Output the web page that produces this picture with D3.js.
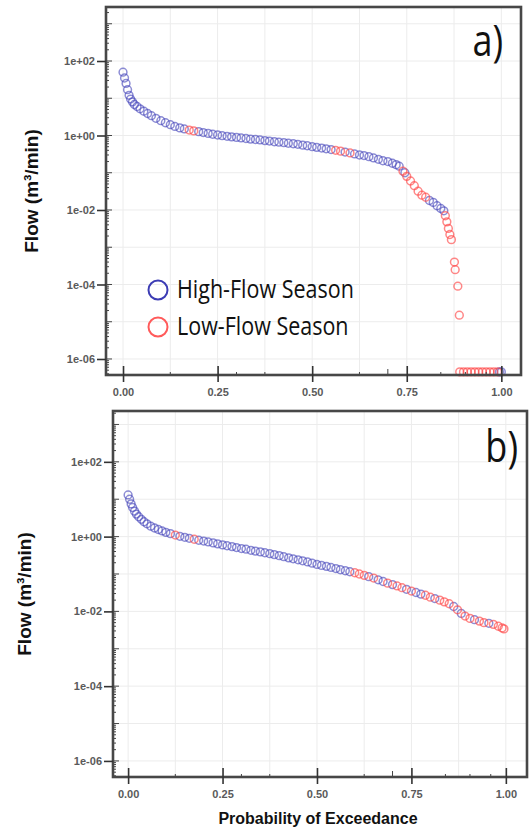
<!DOCTYPE html>
<html>
<head>
<meta charset="utf-8">
<script src="https://cdn.jsdelivr.net/npm/d3@7"></script>
<style>
  body { margin: 0; background: #fff; }
  svg { display: block; }
</style>
</head>
<body>
<svg id="chart" width="530" height="833"></svg>
<script>
// tick values and labels
var xTicks = [0, 0.25, 0.5, 0.75, 1];
var xTickLabels = ['0.00', '0.25', '0.50', '0.75', '1.00'];
var xGrid = [0, 0.125, 0.25, 0.375, 0.5, 0.625, 0.75, 0.875, 1];
var xMinor = [0.125, 0.3, 0.375, 0.625, 0.7, 0.84, 0.905, 0.96];
var yTicks = [1e2, 1, 1e-2, 1e-4, 1e-6];
var yTickLabels = ['1e+02', '1e+00', '1e-02', '1e-04', '1e-06'];
var yGrid = [1e3, 1e2, 1e1, 1, 1e-1, 1e-2, 1e-3, 1e-4, 1e-5, 1e-6];

// panel a) - high flow season
var highA_p = [0.000, 0.004, 0.008, 0.012, 0.016, 0.020, 0.025, 0.030, 0.037, 0.045,
               0.055, 0.065, 0.075, 0.087, 0.100, 0.112, 0.125, 0.137, 0.150, 0.162,
               0.200, 0.212, 0.225, 0.237, 0.250, 0.262, 0.275, 0.287, 0.300, 0.312,
               0.325, 0.337, 0.350, 0.362, 0.375, 0.387, 0.400, 0.412, 0.425, 0.437,
               0.450, 0.462, 0.475, 0.487, 0.500, 0.512, 0.525, 0.537, 0.550, 0.587,
               0.612, 0.625, 0.637, 0.650, 0.662, 0.675, 0.687, 0.700, 0.712, 0.722,
               0.730, 0.745, 0.810, 0.820, 0.830, 0.840, 0.848, 0.995, 1.000];
var highA_q = [50, 35, 25, 17, 12, 9.5, 8, 6.8, 6, 5.2,
               4.5, 3.9, 3.4, 2.9, 2.5, 2.2, 1.95, 1.75, 1.6, 1.5,
               1.27, 1.2, 1.14, 1.08, 1.03, 0.99, 0.95, 0.92, 0.89, 0.86,
               0.83, 0.8, 0.78, 0.76, 0.73, 0.71, 0.68, 0.66, 0.64, 0.62,
               0.6, 0.58, 0.55, 0.53, 0.5, 0.48, 0.46, 0.44, 0.42, 0.36,
               0.32, 0.3, 0.29, 0.27, 0.25, 0.23, 0.21, 0.2, 0.18, 0.165,
               0.15, 0.1, 0.018, 0.016, 0.013, 0.011, 0.0095, 4.5e-7, 4.5e-7];

// panel a) - low flow season
var lowA_p = [0.175, 0.187, 0.562, 0.575, 0.600, 0.740, 0.750, 0.760, 0.770, 0.780,
              0.790, 0.800, 0.852, 0.856, 0.860, 0.864, 0.868, 0.876, 0.878, 0.885,
              0.889, 0.890, 0.900, 0.910, 0.920, 0.930, 0.940, 0.950, 0.960, 0.970,
              0.980, 0.990];
var lowA_q = [1.4, 1.33, 0.4, 0.38, 0.34, 0.11, 0.08, 0.06, 0.045, 0.032,
              0.025, 0.022, 0.007, 0.0048, 0.0032, 0.0022, 0.0016, 4e-4, 2.5e-4, 9e-5,
              1.5e-5, 4.5e-7, 4.5e-7, 4.5e-7, 4.5e-7, 4.5e-7, 4.5e-7, 4.5e-7, 4.5e-7, 4.5e-7,
              4.5e-7, 4.5e-7];

// panel b) - high flow season
var highB_p = [0.000, 0.004, 0.008, 0.012, 0.017, 0.022, 0.028, 0.035, 0.042, 0.050,
               0.060, 0.070, 0.080, 0.090, 0.100, 0.112, 0.137, 0.150, 0.162, 0.187,
               0.200, 0.212, 0.225, 0.237, 0.250, 0.262, 0.275, 0.287, 0.300, 0.312,
               0.325, 0.337, 0.350, 0.362, 0.375, 0.387, 0.400, 0.412, 0.425, 0.437,
               0.450, 0.462, 0.475, 0.487, 0.500, 0.512, 0.525, 0.537, 0.550, 0.562,
               0.575, 0.587, 0.637, 0.662, 0.675, 0.700, 0.737, 0.762, 0.775, 0.812,
               0.862, 0.882, 0.917, 0.955];
var highB_q = [13, 10, 7.5, 6, 4.8, 4, 3.4, 2.9, 2.5, 2.2,
               1.9, 1.7, 1.55, 1.42, 1.3, 1.2, 1.02, 0.96, 0.9, 0.8,
               0.76, 0.72, 0.68, 0.64, 0.6, 0.57, 0.54, 0.51, 0.48, 0.46,
               0.43, 0.41, 0.39, 0.37, 0.35, 0.33, 0.31, 0.29, 0.27, 0.255,
               0.24, 0.225, 0.21, 0.195, 0.18, 0.17, 0.16, 0.15, 0.14, 0.13,
               0.122, 0.115, 0.085, 0.07, 0.063, 0.052, 0.039, 0.032, 0.029, 0.022,
               0.0135, 0.0088, 0.006, 0.0048];

// panel b) - low flow season
var lowB_p = [0.125, 0.175, 0.600, 0.612, 0.625, 0.650, 0.687, 0.712, 0.725, 0.750,
              0.787, 0.800, 0.825, 0.837, 0.850, 0.872, 0.892, 0.905, 0.930, 0.942,
              0.967, 0.980, 0.990, 0.995];
var lowB_q = [1.1, 0.85, 0.108, 0.1, 0.092, 0.078, 0.057, 0.048, 0.043, 0.035,
              0.027, 0.024, 0.02, 0.018, 0.016, 0.011, 0.0075, 0.0065, 0.0055, 0.005,
              0.0045, 0.004, 0.0036, 0.0034];

var highColor = 'rgba(65, 65, 185, 0.6)',
    lowColor = 'rgba(255, 70, 70, 0.65)';

var svg = d3.select('#chart');

function Panel(box, xDomain, yDomain, opts) {
    this.box = box;
    this.opts = opts;
    this.x = d3.scaleLinear().domain(xDomain).range([box.left, box.right]);
    this.y = d3.scaleLog().domain(yDomain).range([box.top, box.bottom]);
    this.g = svg.append('g');
}

Panel.prototype.draw = function(series) {
    var x = this.x, y = this.y, b = this.box, g = this.g, o = this.opts;

    // gridlines
    g.selectAll('.gx').data(xGrid).enter().append('line')
        .attr('x1', x).attr('x2', x)
        .attr('y1', b.top).attr('y2', b.bottom)
        .style('stroke', '#ececec').style('stroke-width', 1);
    g.selectAll('.gy').data(yGrid).enter().append('line')
        .attr('y1', y).attr('y2', y)
        .attr('x1', b.left).attr('x2', b.right)
        .style('stroke', '#ececec').style('stroke-width', 1);

    // points
    series.forEach(function(s) {
        g.append('g').selectAll('circle')
            .data(d3.range(s.p.length))
            .enter().append('circle')
            .attr('cx', function(i) { return x(s.p[i]); })
            .attr('cy', function(i) { return y(s.q[i]); })
            .attr('r', 3.9)
            .style('fill', 'none')
            .style('stroke', s.color)
            .style('stroke-width', 1.5);
    });

    // minor log ticks, inside the left edge
    var minor = y.ticks().filter(function(d) { return d > y.domain()[1] && d < y.domain()[0]; });
    g.selectAll('.my').data(minor).enter().append('line')
        .attr('y1', y).attr('y2', y)
        .attr('x1', b.left)
        .attr('x2', function(d) {
            var m = Math.round(d / Math.pow(10, Math.floor(Math.log10(d) + 1e-9)));
            return b.left + (m === 1 ? 6 : 3);
        })
        .style('stroke', '#444').style('stroke-width', 1);

    g.selectAll('.mx').data(xMinor).enter().append('line')
        .attr('x1', x).attr('x2', x)
        .attr('y1', b.bottom).attr('y2', function(d) { return b.bottom - (d === 0.7 ? 6 : 3); })
        .style('stroke', '#444').style('stroke-width', 1);

    // frame
    g.append('rect')
        .attr('x', b.left).attr('y', b.top)
        .attr('width', b.right - b.left).attr('height', b.bottom - b.top)
        .style('fill', 'none').style('stroke', '#474747').style('stroke-width', 2.6);

    // axes
    var yAxis = g.append('g')
        .attr('transform', 'translate(' + b.left + ',0)')
        .call(d3.axisLeft(y).tickValues(yTicks)
            .tickFormat(function(d, i) { return yTickLabels[i]; })
            .tickSize(9).tickPadding(2));
    var xAxis = g.append('g')
        .attr('transform', 'translate(0,' + b.bottom + ')')
        .call(d3.axisBottom(x).tickValues(xTicks)
            .tickFormat(function(d, i) { return xTickLabels[i]; })
            .tickSize(7).tickPadding(6));
    xAxis.selectAll('.tick line').attr('y1', -9);

    [yAxis, xAxis].forEach(function(ax) {
        ax.select('.domain').remove();
        ax.selectAll('.tick line').style('stroke', '#333').style('stroke-width', 1.6);
        ax.selectAll('text')
            .style('font-family', 'Liberation Sans, Arial, sans-serif')
            .style('font-size', '11px')
            .style('font-weight', 'bold')
            .style('fill', '#5a5a5a');
    });

    // panel tag, slightly stretched like the source image
    g.append('text')
        .attr('transform', 'translate(' + o.tagX + ',' + o.tagY + ') scale(1,1.2)')
        .attr('text-anchor', 'end')
        .style('font-family', 'Open Sans, sans-serif')
        .style('font-size', '36px')
        .style('fill', '#111')
        .text(o.tag);

    // y title
    var cy = (b.top + b.bottom) / 2;
    g.append('text')
        .attr('transform', 'translate(' + o.titleX + ',' + cy + ') rotate(-90)')
        .attr('text-anchor', 'middle')
        .style('font-family', 'Liberation Sans, Arial, sans-serif')
        .style('font-size', '19px')
        .style('font-weight', 'bold')
        .style('fill', '#111')
        .text('Flow (m\u00b3/min)');
};

var panelA = new Panel({left: 106, right: 521, top: 7, bottom: 375},
    [-0.045, 1.052], [Math.pow(10, 3.45), Math.pow(10, -6.43)],
    {tag: 'a)', tagX: 503, tagY: 56, titleX: 38});
panelA.draw([
    {p: highA_p, q: highA_q, color: highColor},
    {p: lowA_p, q: lowA_q, color: lowColor}
]);

var panelB = new Panel({left: 113, right: 527, top: 411, bottom: 777},
    [-0.04, 1.056], [Math.pow(10, 3.36), Math.pow(10, -6.43)],
    {tag: 'b)', tagX: 518, tagY: 462, titleX: 31});
panelB.draw([
    {p: highB_p, q: highB_q, color: highColor},
    {p: lowB_p, q: lowB_q, color: lowColor}
]);

// legend in panel a
var legend = [
    {label: 'High-Flow Season', color: '#3c3cb4', y: 290},
    {label: 'Low-Flow Season', color: '#ff5a5a', y: 327}
];
var lg = svg.selectAll('.legend').data(legend).enter().append('g');
lg.append('circle')
    .attr('cx', 158).attr('cy', function(d) { return d.y; })
    .attr('r', 9.5)
    .style('fill', 'none').style('stroke', function(d) { return d.color; })
    .style('stroke-width', 2);
lg.append('text')
    .attr('transform', function(d) { return 'translate(177,' + (d.y + 8) + ') scale(1,1.15)'; })
    .style('font-family', 'Open Sans, sans-serif')
    .style('font-size', '21.5px')
    .style('fill', '#111')
    .text(function(d) { return d.label; });

// x title
svg.append('text')
    .attr('x', 318).attr('y', 824)
    .attr('text-anchor', 'middle')
    .style('font-family', 'Liberation Sans, Arial, sans-serif')
    .style('font-size', '16px')
    .style('font-weight', 'bold')
    .style('fill', '#111')
    .text('Probability of Exceedance');
</script>
</body>
</html>
